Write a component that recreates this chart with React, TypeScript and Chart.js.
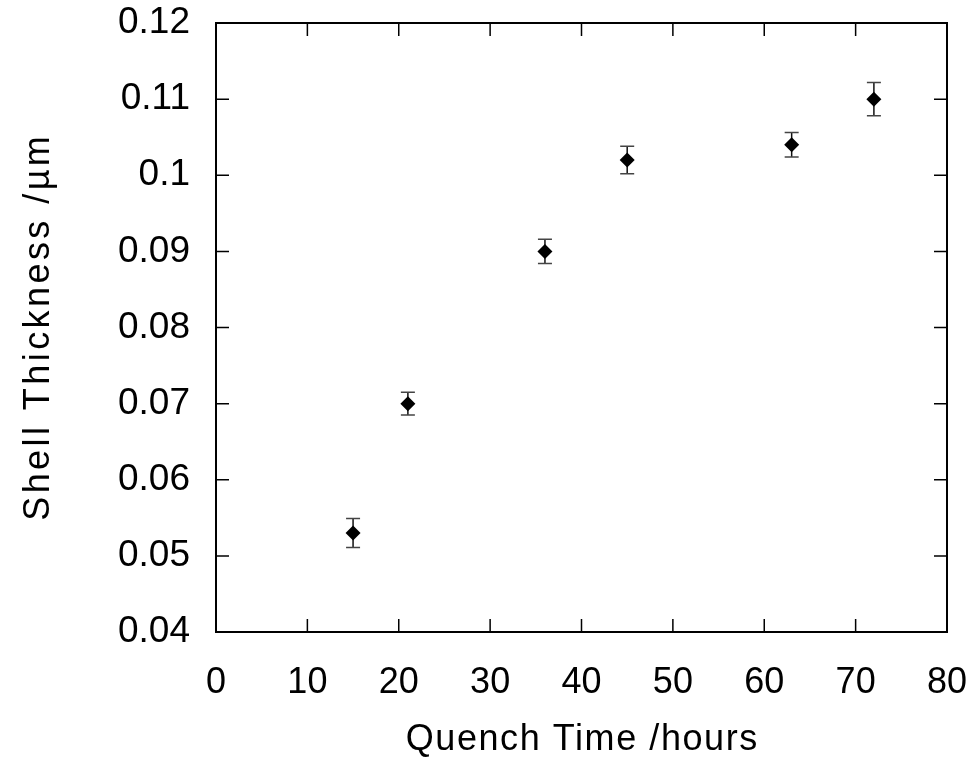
import React, { useEffect, useRef } from 'react';
import { Chart, registerables } from 'chart.js';

Chart.register(...registerables);

const QUENCH_TIME = [15, 21, 36, 45, 63, 72];
const SHELL_THICKNESS = [0.053, 0.07, 0.09, 0.102, 0.104, 0.11];
const THICKNESS_ERROR = [0.0019, 0.0015, 0.0016, 0.0018, 0.0016, 0.0022];

const X_TICKS = [0, 10, 20, 30, 40, 50, 60, 70, 80];
const X_TICK_LABELS = ['0', '10', '20', '30', '40', '50', '60', '70', '80'];
const Y_TICKS = [0.04, 0.05, 0.06, 0.07, 0.08, 0.09, 0.1, 0.11, 0.12];
const Y_TICK_LABELS = ['0.04', '0.05', '0.06', '0.07', '0.08', '0.09', '0.1', '0.11', '0.12'];

const X_TITLE = 'Quench Time /hours';
const Y_TITLE = 'Shell Thickness /\u00B5m';

const FONT = '"Liberation Sans", Arial, Helvetica, sans-serif';

const errorBarPlugin = {
  id: 'errorBars',
  beforeDatasetsDraw(chart: any) {
    const { ctx, scales } = chart;
    const xs = scales.x;
    const ys = scales.y;
    ctx.save();
    for (let i = 0; i < QUENCH_TIME.length; i++) {
      const x = xs.getPixelForValue(QUENCH_TIME[i]);
      const yTop = ys.getPixelForValue(SHELL_THICKNESS[i] + THICKNESS_ERROR[i]);
      const yBot = ys.getPixelForValue(SHELL_THICKNESS[i] - THICKNESS_ERROR[i]);
      ctx.strokeStyle = '#111';
      ctx.lineWidth = 1.5;
      ctx.beginPath();
      ctx.moveTo(x, yTop);
      ctx.lineTo(x, yBot);
      ctx.stroke();
      ctx.strokeStyle = '#444';
      ctx.lineWidth = 1.5;
      ctx.beginPath();
      ctx.moveTo(x - 7, yTop);
      ctx.lineTo(x + 7, yTop);
      ctx.moveTo(x - 7, yBot);
      ctx.lineTo(x + 7, yBot);
      ctx.stroke();
    }
    ctx.restore();
  },
};

const framePlugin = {
  id: 'frame',
  afterDraw(chart: any) {
    const { ctx, chartArea, scales } = chart;
    const { left, right, top, bottom } = chartArea;
    const tick = 13;
    ctx.save();
    ctx.strokeStyle = '#000';
    ctx.lineWidth = 1.5;
    ctx.beginPath();
    X_TICKS.forEach((v) => {
      const x = scales.x.getPixelForValue(v);
      ctx.moveTo(x, bottom);
      ctx.lineTo(x, bottom - tick);
      ctx.moveTo(x, top);
      ctx.lineTo(x, top + tick);
    });
    Y_TICKS.forEach((v) => {
      const y = scales.y.getPixelForValue(v);
      ctx.moveTo(left, y);
      ctx.lineTo(left + tick, y);
      ctx.moveTo(right, y);
      ctx.lineTo(right - tick, y);
    });
    ctx.stroke();
    ctx.lineWidth = 2;
    ctx.strokeRect(left, top, right - left, bottom - top);

    // axis titles
    ctx.fillStyle = '#000';
    ctx.font = `36px ${FONT}`;
    ctx.textAlign = 'center';
    ctx.textBaseline = 'alphabetic';

    const fitSpacing = (text: string, target: number) => {
      (ctx as any).letterSpacing = '0px';
      const w = ctx.measureText(text).width;
      return Math.max(0, (target - w) / text.length);
    };

    const cx = (left + right) / 2;
    const sx = fitSpacing(X_TITLE, 353);
    (ctx as any).letterSpacing = `${sx}px`;
    ctx.fillText(X_TITLE, cx + sx / 2, 750);

    const cy = (top + bottom) / 2 + 1;
    const sy = fitSpacing(Y_TITLE, 388);
    (ctx as any).letterSpacing = `${sy}px`;
    ctx.translate(49, cy);
    ctx.rotate(-Math.PI / 2);
    ctx.fillText(Y_TITLE, sy / 2, 0);
    ctx.restore();
  },
};

export default function App() {
  const canvasRef = useRef<HTMLCanvasElement | null>(null);

  useEffect(() => {
    if (!canvasRef.current) return;
    const chart = new Chart(canvasRef.current, {
      type: 'scatter',
      data: {
        datasets: [
          {
            label: 'Shell thickness',
            data: QUENCH_TIME.map((x, i) => ({ x, y: SHELL_THICKNESS[i] })),
            pointStyle: 'rectRot',
            pointRadius: 7.5,
            pointHoverRadius: 7.5,
            backgroundColor: '#000',
            borderColor: '#000',
            borderWidth: 0,
            showLine: false,
          },
        ],
      },
      options: {
        animation: false,
        responsive: true,
        maintainAspectRatio: false,
        devicePixelRatio: 1,
        layout: { padding: 0 },
        plugins: {
          legend: { display: false },
          tooltip: { enabled: false },
          title: { display: false },
        },
        scales: {
          x: {
            type: 'linear',
            min: 0,
            max: 80,
            grid: { display: false },
            border: { display: false },
            afterBuildTicks: (s: any) => {
              s.ticks = X_TICKS.map((v) => ({ value: v }));
            },
            afterFit: (s: any) => {
              s.height = 128;
              s.paddingLeft = 0;
              s.paddingRight = 32;
            },
            ticks: {
              autoSkip: false,
              maxRotation: 0,
              padding: 21,
              color: '#000',
              font: { family: FONT, size: 36 },
              callback: (_v: any, i: number) => X_TICK_LABELS[i],
            },
          },
          y: {
            type: 'linear',
            min: 0.04,
            max: 0.12,
            grid: { display: false },
            border: { display: false },
            afterBuildTicks: (s: any) => {
              s.ticks = Y_TICKS.map((v) => ({ value: v }));
            },
            afterFit: (s: any) => {
              s.width = 216;
              s.paddingTop = 23;
              s.paddingBottom = 0;
            },
            ticks: {
              autoSkip: false,
              padding: 18,
              color: '#000',
              font: { family: FONT, size: 37 },
              callback: (_v: any, i: number) => Y_TICK_LABELS[i],
            },
          },
        },
      },
      plugins: [errorBarPlugin, framePlugin],
    });
    return () => chart.destroy();
  }, []);

  return (
    <div style={{ position: 'absolute', left: 0, top: 0, width: 979, height: 760, background: '#fff' }}>
      <canvas ref={canvasRef} />
    </div>
  );
}
